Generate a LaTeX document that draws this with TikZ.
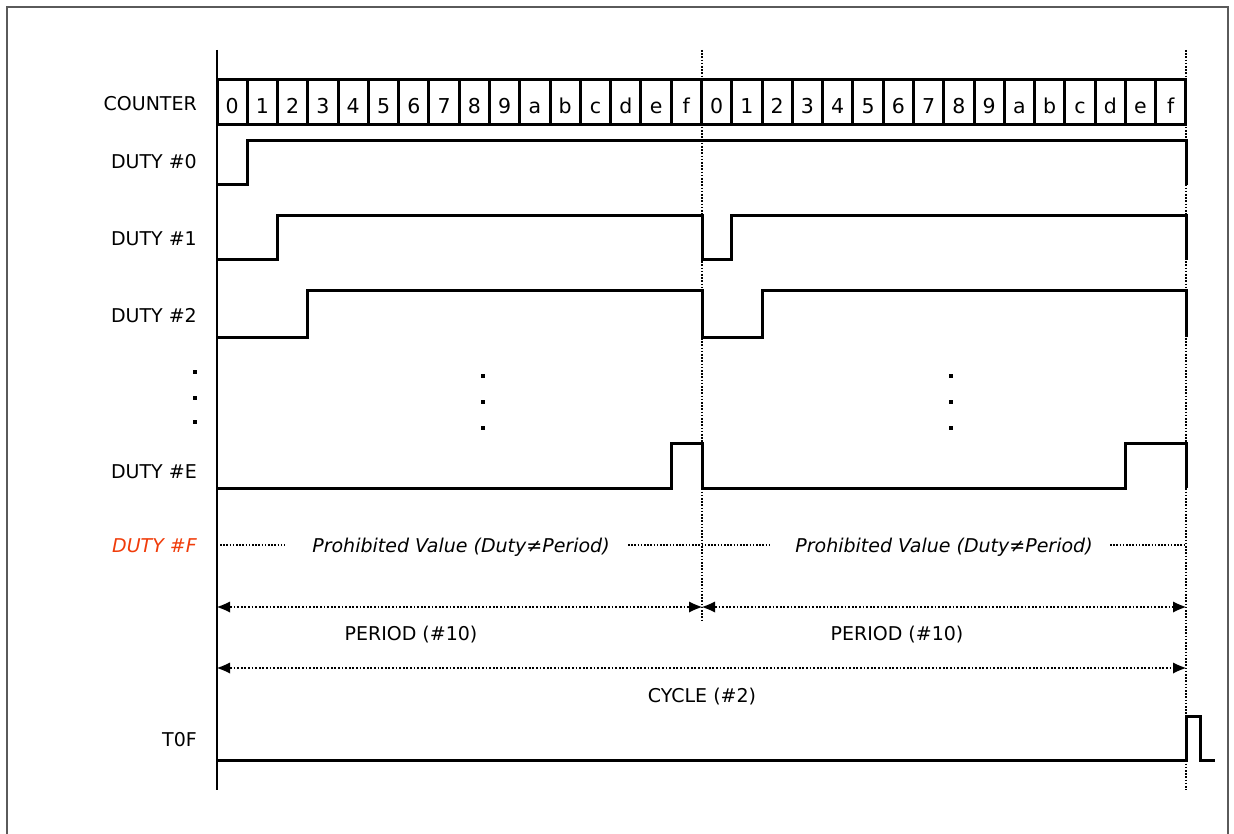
\documentclass[tikz,border=0pt]{standalone}
\usepackage{fontspec}
\setmainfont{DejaVu Sans}
\usetikzlibrary{arrows.meta}
\definecolor{redlbl}{RGB}{240,60,10}
\definecolor{framegray}{RGB}{90,90,90}
\begin{document}
\begin{tikzpicture}[x=1pt,y=-1pt,
  sig/.style={line width=3pt, line join=miter},
  lbl/.style={anchor=base east, font=\fontsize{19}{22}\selectfont, inner sep=0pt},
  ctr/.style={anchor=base, font=\fontsize{19}{22}\selectfont, inner sep=0pt},
  digit/.style={anchor=base, font=\fontsize{20.5}{22}\selectfont, inner sep=0pt},
  cellbox/.style={draw, line width=3pt, minimum width=30.28pt, minimum height=45pt, inner sep=0pt},
  guide/.style={line width=1.6pt, dash pattern=on 1.6pt off 1.6pt},
  tipx/.tip={Latex[length=13pt,width=11pt,line width=0pt,sep=0pt]},
  dimline/.style={line width=2pt, dash pattern=on 1.8pt off 1.8pt, tipx-tipx},
  dotmark/.style={fill=black, minimum size=3.4pt, inner sep=0pt},
]
\def\cw{30.28}
\useasboundingbox (0,0) rectangle (1234,834);
% frame
\draw[framegray, line width=1.5pt] (7,834) -- (7,7) -- (1228,7) -- (1228,834);
% guides
\coordinate (g1t) at (702,50);  \coordinate (g1b) at (702,622);
\coordinate (g2t) at (1186,50); \coordinate (g2b) at (1186,790);
\draw[guide] (g1t) -- (g1b);
\draw[guide] (g2t) -- (g2b);
% axis
\coordinate (axt) at (217,50); \coordinate (axb) at (217,790);
\draw[line width=2.2pt] (axt) -- (axb);

% counter cells
\foreach \v [count=\i from 0] in {0,1,2,3,4,5,6,7,8,9,a,b,c,d,e,f,0,1,2,3,4,5,6,7,8,9,a,b,c,d,e,f}{
  \node[cellbox] (c\i) at ({217+(\i+0.5)*\cw},102.5) {};
  \node[digit] (t\i) at ({217+(\i+0.5)*\cw},113.5) {\v};
}

% labels
\node[lbl] (lc) at (197,111) {COUNTER};
\node[lbl] (l0) at (197,169) {DUTY \#0};
\node[lbl] (l1) at (197,246) {DUTY \#1};
\node[lbl] (l2) at (197,323) {DUTY \#2};
\node[lbl] (lE) at (197,478) {DUTY \#E};
\node[lbl, text=redlbl, font=\fontsize{19}{22}\selectfont\itshape] (lF) at (197,552) {DUTY \#F};
\node[lbl] (lT) at (197,746) {T0F};

% DUTY #0
\draw[sig] (217,185) -- ({217+\cw},185) -- ({217+\cw},141) -- (1186,141) -- (1186,185);
% DUTY #1
\draw[sig] (217,260) -- ({217+2*\cw},260) -- ({217+2*\cw},216) -- (702,216) -- (702,260)
  -- ({217+17*\cw},260) -- ({217+17*\cw},216) -- (1186,216) -- (1186,260);
% DUTY #2
\draw[sig] (217,337) -- ({217+3*\cw},337) -- ({217+3*\cw},291) -- (702,291) -- (702,337)
  -- ({217+18*\cw},337) -- ({217+18*\cw},291) -- (1186,291) -- (1186,337);
% DUTY #E
\draw[sig] (217,488) -- ({217+15*\cw},488) -- ({217+15*\cw},443) -- (702,443) -- (702,488)
  -- ({217+30*\cw},488) -- ({217+30*\cw},443) -- (1186,443) -- (1186,488);

% vertical ellipsis
\foreach \y [count=\k] in {372,398,422}{ \node[dotmark] (da\k) at (195,\y) {}; }
\foreach \y [count=\k] in {376,402,428}{ \node[dotmark] (db\k) at (483,\y) {}; \node[dotmark] (dc\k) at (951,\y) {}; }

% DUTY #F prohibited
\node[anchor=base, inner sep=0pt, font=\fontsize{19}{22}\selectfont\itshape] (pv1) at (461,552) {Prohibited Value (Duty≠Period)};
\node[anchor=base, inner sep=0pt, font=\fontsize{19}{22}\selectfont\itshape] (pv2) at (944,552) {Prohibited Value (Duty≠Period)};
\draw[guide, line width=1.9pt] (220,545) -- (285,545);
\draw[guide, line width=1.9pt] (628,545) -- (770,545);
\draw[guide, line width=1.9pt] (1110,545) -- (1186,545);

% period / cycle
\coordinate (p0) at (217,607); \coordinate (p1) at (702,607); \coordinate (p2) at (1186,607);
\draw[dimline] (p0) -- (p1);
\draw[dimline] (p1) -- (p2);
\node[ctr] (per1) at (411,640) {PERIOD (\#10)};
\node[ctr] (per2) at (897,640) {PERIOD (\#10)};
\coordinate (cy0) at (217,668); \coordinate (cy1) at (1186,668);
\draw[dimline] (cy0) -- (cy1);
\node[ctr] (cyc) at (702,702) {CYCLE (\#2)};

% T0F
\draw[sig] (217,760) -- (1186,760) -- (1186,716) -- (1200,716) -- (1200,760) -- (1215,760);
\end{tikzpicture}
\end{document}
